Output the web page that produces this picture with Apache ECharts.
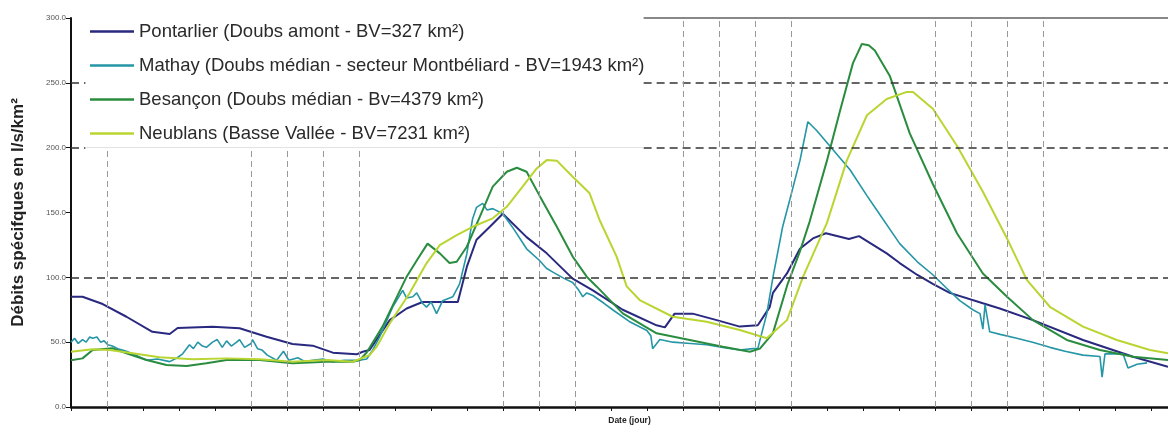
<!DOCTYPE html>
<html>
<head>
<meta charset="utf-8">
<script src="https://cdn.jsdelivr.net/npm/echarts@6/dist/echarts.min.js"></script>
<style>html,body{margin:0;background:#fff}#chart{width:1168px;height:432px}</style>
</head>
<body>
<div id="chart"></div>
<script>
// x in tick units (one unit per x-axis tick), y in l/s/km²
var seriesNames = [
  'Pontarlier (Doubs amont - BV=327 km²)',
  'Mathay (Doubs médian - secteur Montbéliard - BV=1943 km²)',
  'Besançon (Doubs médian - Bv=4379 km²)',
  'Neublans (Basse Vallée - BV=7231 km²)'
];
var seriesColors = ['#29297f', '#2596a6', '#2a8c3f', '#b9d531'];

var pontarlierX = [0,0.32,0.88,1.54,2.26,2.74,2.96,3.93,4.68,5.43,6.15,6.71,7.27,7.93,8.1,8.29,8.85,9.32,9.76,10.74,10.99,11.26,11.63,11.99,12.65,13.21,13.93,14.49,15.32,16.26,16.49,16.76,17.26,17.93,18.57,19.07,19.4,19.49,19.88,20.24,20.6,20.96,21.6,21.88,22.65,23.01,23.49,23.93,24.4,25.32,25.79,26.71,28.1,29.49,30.46];
var pontarlierY = [85,85,79.4,69.6,58,56.3,60.9,61.9,60.7,54.2,48.6,47.3,41.9,40.6,42.6,44,67,76,81,81,108,129,139,149,131,118.5,99,90,75,63,61.4,72,72,67,62,63,77,88,103,122,130,134,129.5,131.8,118.5,111,102,95,88,80,76,67,51.7,38.8,31];

var mathayX = [0,0.1,0.2,0.32,0.42,0.52,0.6,0.72,0.82,0.92,1.02,1.15,1.3,1.54,1.8,2.1,2.4,2.74,2.95,3.1,3.29,3.4,3.52,3.65,3.76,3.93,4.06,4.2,4.32,4.45,4.6,4.68,4.82,5.0,5.04,5.18,5.3,5.45,5.71,5.9,6.05,6.3,6.5,6.71,7.0,7.27,7.6,8.01,8.21,8.38,8.57,8.93,9.21,9.32,9.49,9.6,9.76,9.87,10.0,10.15,10.32,10.6,10.79,10.99,11.15,11.26,11.43,11.55,11.71,11.99,12.3,12.65,13.01,13.2,13.38,13.7,13.93,14.1,14.21,14.32,14.49,14.8,15.04,15.5,15.99,16.1,16.15,16.35,16.71,17.2,17.65,18.1,18.57,18.93,19.07,19.32,19.49,19.76,19.96,20.24,20.46,20.71,21.2,21.63,22.1,22.32,23.01,23.5,23.93,24.3,24.68,25.04,25.24,25.32,25.38,25.51,25.8,26.26,26.7,27.18,27.6,28.1,28.57,28.63,28.71,29.21,29.35,29.6,29.88];
var mathayY = [50,53,49,52,50,54,53,54,50,51,48,47,45,43,40,36,37,35,38,41,48,45,50,47,46,50,52,46,51,47,50,52,46,49,52,45,44,40,36,43,36,38,35,36,37,35,36,36,37,44,54,77,90,84,85,88,80,77,81,72,82,85,95,118,145,154,157,152,153,149,137,122,113,107,104,99,96,90,85,88,86,80,75,66,59,55,45,52,50,49,48,46,44,45,45,72,100,139,160,190,220,213,197,183,163,154,126,112,102,92,82,75,72,60,79,58,56,53,50,46,43,40,39,23,41,41,30,33,34];

var besanconX = [0,0.32,0.6,1.15,1.54,2.1,2.65,3.21,3.76,4.32,5.24,6.15,7.1,7.82,8.01,8.21,8.65,9.32,9.6,9.9,10.24,10.51,10.71,10.99,11.35,11.71,12.1,12.38,12.65,13.01,13.49,13.93,14.32,14.6,15.32,16.26,17.18,18.1,18.85,19.13,19.49,19.9,20.24,20.51,20.99,21.35,21.71,21.96,22.15,22.32,22.74,23.29,23.93,24.6,25.32,25.99,26.71,27.65,28.57,29.49,30.46];
var besanconY = [36,37.5,44,45.3,41.4,36.2,32.4,31.6,33.7,36.2,36.2,33.7,34.9,34.9,36,42,62,100.5,113,126,118.5,111,112,123.6,146.7,170,181.4,184.5,181.4,163,139,116,100.5,92.8,72.2,56.8,51.7,46.5,42.6,45,57,95,120,143,190,228,265,280,279,275,255,211,172,134,103,85,67,51.7,44,38.8,36.2];

var neublansX = [0,0.6,1.07,1.71,2.46,3.38,4.32,5.24,6.15,7.1,7.82,8.29,8.5,8.85,9.4,9.87,10.24,10.71,11.15,11.71,12.1,12.54,12.93,13.21,13.49,13.93,14.21,14.4,14.68,15.15,15.43,15.79,16.71,17.65,18.57,19.32,19.88,20.32,20.99,21.54,22.1,22.65,23.21,23.38,23.93,24.6,25.32,25.99,26.54,27.18,28.1,29.04,29.96,30.46];
var neublansY = [42.6,44.5,44,41.4,38.3,36.8,37.5,36.8,34.9,36.2,34.9,40,47,64.5,87.7,110.8,124.9,132.6,139,145.5,154.4,170,184,190.4,190,177.6,170,164.8,144,116,93,82.5,69.6,65.8,59.4,53,67,100,142,190,225,237.5,243,243,230,201.5,166,130,98,77.3,62,51.7,44,41.4];

var xMax = 30.46;
// gridline positions (in tick units) as drawn in the original
var shortGridV = [1, 5, 6, 7, 8, 12, 13, 14];
var tallGridV = [17, 18, 19, 20, 24, 25, 26, 27];
var legendEdge = 15.9;

function pairs(xs, ys) {
  return xs.map(function (x, i) { return [x, ys[i]]; });
}

var dashDark = { color: '#333', width: 1.5, type: [8, 5] };
var dashLight = { color: '#999', width: 1, type: [6, 4] };

var gridLines = [
  [{ coord: [0, 100] }, { coord: [xMax, 100] }],
  [{ coord: [0, 200] }, { coord: [0.4, 200] }],
  [{ coord: [legendEdge, 200] }, { coord: [xMax, 200] }],
  [{ coord: [0, 250] }, { coord: [0.4, 250] }],
  [{ coord: [legendEdge, 250] }, { coord: [xMax, 250] }],
  [{ coord: [legendEdge, 300], lineStyle: { color: '#888', width: 2, type: 'solid' } }, { coord: [xMax, 300] }],
  [{ coord: [0.4, 200], lineStyle: { color: '#e2e2e2', width: 1, type: 'solid' } }, { coord: [legendEdge, 200] }]
];
shortGridV.forEach(function (t) {
  gridLines.push([{ coord: [t, 0], lineStyle: dashLight }, { coord: [t, 200] }]);
});
tallGridV.forEach(function (t) {
  gridLines.push([{ coord: [t, 0], lineStyle: dashLight }, { coord: [t, 300] }]);
});

var allData = [
  pairs(pontarlierX, pontarlierY),
  pairs(mathayX, mathayY),
  pairs(besanconX, besanconY),
  pairs(neublansX, neublansY)
];

var series = [{
  type: 'line',
  data: [],
  z: 1,
  silent: true,
  markLine: {
    silent: true,
    symbol: ['none', 'none'],
    label: { show: false },
    lineStyle: dashDark,
    data: gridLines
  }
}];
seriesNames.forEach(function (name, i) {
  series.push({
    name: name,
    type: 'line',
    data: allData[i],
    showSymbol: false,
    z: 3,
    lineStyle: { color: seriesColors[i], width: i === 1 ? 1.6 : 2 },
    itemStyle: { color: seriesColors[i] }
  });
});

var myChart = echarts.init(document.getElementById('chart'));
myChart.setOption({
  animation: false,
  textStyle: { fontFamily: 'Liberation Sans, Arial, sans-serif' },
  legend: {
    orient: 'vertical',
    left: 90,
    top: 22,
    padding: 0,
    itemWidth: 44,
    itemHeight: 2.5,
    itemGap: 15,
    icon: 'rect',
    textStyle: { fontSize: 18.5, color: '#2a2a2a' },
    data: seriesNames
  },
  grid: { left: 71, right: 0, top: 18, bottom: 25 },
  xAxis: {
    type: 'value',
    min: 0,
    max: xMax,
    interval: 1,
    name: 'Date (jour)',
    nameLocation: 'middle',
    nameGap: 9,
    nameTextStyle: { fontSize: 8.5, fontWeight: 'bold', color: '#222', padding: [0, 0, 0, 20] },
    axisLine: { lineStyle: { color: '#111', width: 2.5 } },
    axisTick: { length: 4, lineStyle: { color: '#111', width: 1 } },
    axisLabel: { show: false },
    splitLine: { show: false }
  },
  yAxis: {
    type: 'value',
    min: 0,
    max: 300,
    interval: 50,
    name: 'Débits spécifques en l/s/km²',
    nameLocation: 'middle',
    nameGap: 44,
    nameTextStyle: { fontSize: 17, fontWeight: 'bold', color: '#222' },
    axisLine: { show: true, lineStyle: { color: '#111', width: 2 } },
    axisTick: { length: 5, lineStyle: { color: '#111', width: 1 } },
    axisLabel: { fontSize: 8, color: '#555', margin: 5, formatter: function (v) { return v.toFixed(1); } },
    splitLine: { show: false }
  },
  series: series
});
</script>
</body>
</html>
